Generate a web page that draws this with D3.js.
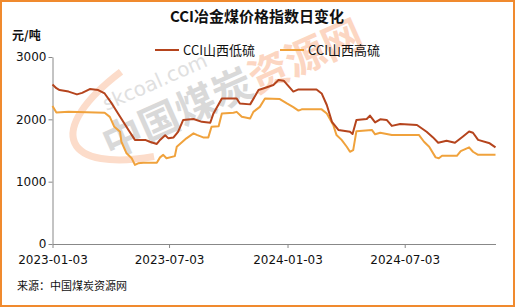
<!DOCTYPE html>
<html lang="zh">
<head>
  <meta charset="UTF-8" />
  <title>CCI冶金煤价格指数日变化</title>
  <script src="https://d3js.org/d3.v7.min.js"></script>
  <style>
    body {
      margin: 0;
      background: #fff;
      font-family: "Noto Sans CJK SC", "DejaVu Sans", sans-serif;
    }
    svg { display: block; }
    .axis path, .axis line { stroke: #888; }
    .axis text { font-size: 12px; fill: #111; font-family: "DejaVu Sans", "Noto Sans CJK SC", sans-serif; }
  </style>
</head>
<body>
  <svg width="515" height="307"></svg>
  <script>
    // CCI山西低硫
    const lowDates = ["2023-01-03","2023-01-09","2023-01-14","2023-01-28","2023-02-10","2023-02-18","2023-03-02","2023-03-15","2023-03-25","2023-04-05","2023-04-18","2023-05-01","2023-05-11","2023-05-27","2023-06-03","2023-06-14","2023-06-19","2023-06-27","2023-07-02","2023-07-10","2023-07-17","2023-07-25","2023-08-10","2023-08-23","2023-09-05","2023-09-10","2023-09-23","2023-10-16","2023-10-21","2023-11-06","2023-11-19","2023-12-02","2023-12-12","2023-12-20","2023-12-28","2024-01-12","2024-01-20","2024-02-17","2024-02-25","2024-03-04","2024-03-12","2024-03-22","2024-04-09","2024-04-13","2024-04-19","2024-05-05","2024-05-10","2024-05-18","2024-05-26","2024-06-05","2024-06-13","2024-06-26","2024-07-22","2024-08-06","2024-08-16","2024-08-24","2024-09-06","2024-09-19","2024-10-02","2024-10-11","2024-10-17","2024-10-25","2024-11-12","2024-11-21"];
    const lowValues = [2560,2500,2470,2445,2400,2425,2485,2470,2415,2255,2040,1830,1670,1670,1640,1605,1670,1745,1695,1710,1800,1990,2005,1960,1945,2095,2335,2335,2255,2240,2470,2515,2550,2630,2620,2445,2480,2480,2415,2230,1960,1830,1800,1765,1990,2005,2060,1950,2000,1990,1895,1925,1910,1800,1710,1625,1655,1625,1730,1805,1785,1670,1615,1550];

    // CCI山西高硫
    const highDates = ["2023-01-03","2023-01-09","2023-01-28","2023-03-25","2023-04-02","2023-04-09","2023-04-18","2023-04-20","2023-04-28","2023-05-06","2023-05-11","2023-05-16","2023-05-24","2023-06-14","2023-06-19","2023-06-24","2023-06-29","2023-07-12","2023-07-15","2023-07-30","2023-08-10","2023-08-15","2023-08-25","2023-09-02","2023-09-07","2023-09-18","2023-09-23","2023-10-11","2023-10-16","2023-10-24","2023-11-06","2023-11-11","2023-11-21","2023-11-29","2023-12-22","2024-01-02","2024-01-12","2024-01-20","2024-01-25","2024-02-25","2024-03-04","2024-03-14","2024-03-19","2024-03-27","2024-04-04","2024-04-09","2024-04-14","2024-04-19","2024-05-13","2024-05-18","2024-05-26","2024-06-13","2024-07-25","2024-08-02","2024-08-10","2024-08-20","2024-08-25","2024-08-30","2024-09-22","2024-09-28","2024-10-11","2024-10-17","2024-10-25","2024-11-21"];
    const highValues = [2215,2110,2120,2105,2040,1880,1800,1640,1455,1375,1270,1295,1305,1305,1390,1430,1375,1410,1560,1695,1775,1750,1710,1710,1880,1890,2095,2105,2120,2040,2015,2120,2200,2335,2325,2255,2195,2140,2160,2160,2095,1910,1750,1670,1560,1480,1505,1810,1830,1760,1785,1750,1750,1640,1560,1390,1375,1415,1415,1490,1550,1480,1430,1430];

    const yTicks = [0, 1000, 2000, 3000];
    const xTickLabels = ["2023-01-03", "2023-07-03", "2024-01-03", "2024-07-03"];

    const parse = d3.timeParse("%Y-%m-%d");
    const seriesList = [
      { name: "CCI山西低硫", color: "#b5441d", points: lowDates.map((d, i) => ({ date: parse(d), value: lowValues[i] })) },
      { name: "CCI山西高硫", color: "#f0a23c", points: highDates.map((d, i) => ({ date: parse(d), value: highValues[i] })) }
    ];

    const svg = d3.select("svg");
    const W = 515, H = 307;

    // outer frame
    svg.append("rect")
      .attr("x", 1).attr("y", 1).attr("width", W - 2).attr("height", H - 2)
      .attr("fill", "#fff").attr("stroke", "#f08a2e").attr("stroke-width", 2);

    const x = d3.scaleTime()
      .domain([parse("2023-01-03"), parse("2024-11-21")])
      .range([52.5, 495.5]);
    const y = d3.scaleLinear().domain([0, 3000]).range([244, 57]);

    // watermark
    const wm = svg.append("g").attr("transform", "translate(232,88) rotate(-24)");
    wm.append("ellipse")
      .attr("cx", 0).attr("cy", -14).attr("rx", 166).attr("ry", 56)
      .attr("fill", "none").attr("stroke", "#fcdcca").attr("stroke-width", 7)
      .attr("stroke-dasharray", "175 1000").attr("stroke-dashoffset", -285);
    wm.append("text")
      .attr("x", -68).attr("y", -30)
      .attr("text-anchor", "middle")
      .attr("font-size", 20).attr("fill", "#e0e0e0")
      .attr("font-family", "DejaVu Sans, sans-serif")
      .text("skcoal.com");
    const wmText = wm.append("text")
      .attr("x", 0).attr("y", 15)
      .attr("text-anchor", "middle")
      .attr("font-size", 40).attr("font-weight", "bold");
    wmText.append("tspan").attr("fill", "#d9d9d9").text("中国煤炭");
    wmText.append("tspan").attr("fill", "#fcd6c2").text("资源网");

    // axes
    svg.append("g")
      .attr("class", "axis")
      .attr("transform", "translate(52.5,0)")
      .call(d3.axisLeft(y).tickValues(yTicks).tickSize(4).tickSizeOuter(0).tickFormat(d3.format("d")))
      .call(g => g.selectAll("text").attr("x", -6));

    svg.append("g")
      .attr("class", "axis")
      .attr("transform", "translate(0,244)")
      .call(d3.axisBottom(x).tickValues(xTickLabels.map(parse)).tickSize(4).tickSizeOuter(0)
        .tickFormat(d3.timeFormat("%Y-%m-%d")))
      .call(g => g.selectAll("text").attr("dy", "1.05em"));

    const line = d3.line()
      .x(d => x(d.date))
      .y(d => y(d.value));

    svg.append("g")
      .selectAll("path")
      .data(seriesList.slice().reverse())
      .join("path")
      .attr("fill", "none")
      .attr("stroke", d => d.color)
      .attr("stroke-width", 2)
      .attr("stroke-linejoin", "round")
      .attr("d", d => line(d.points));

    // title
    svg.append("text")
      .attr("x", 257).attr("y", 22)
      .attr("text-anchor", "middle")
      .attr("font-size", 15).attr("font-weight", "bold").attr("fill", "#111")
      .text("CCI冶金煤价格指数日变化");

    svg.append("text")
      .attr("x", 12).attr("y", 40)
      .attr("font-size", 12).attr("font-weight", "bold").attr("fill", "#111")
      .text("元/吨");

    // legend
    const legend = svg.append("g")
      .selectAll("g")
      .data(seriesList)
      .join("g")
      .attr("transform", (d, i) => `translate(${155 + i * 125},50)`);
    legend.append("line")
      .attr("x1", 0).attr("x2", 24)
      .attr("stroke", d => d.color).attr("stroke-width", 2);
    legend.append("text")
      .attr("x", 28).attr("y", 5)
      .attr("font-size", 13).attr("fill", "#111")
      .text(d => d.name);

    svg.append("text")
      .attr("x", 17).attr("y", 290)
      .attr("font-size", 11).attr("fill", "#111")
      .text("来源：中国煤炭资源网");
  </script>
</body>
</html>
